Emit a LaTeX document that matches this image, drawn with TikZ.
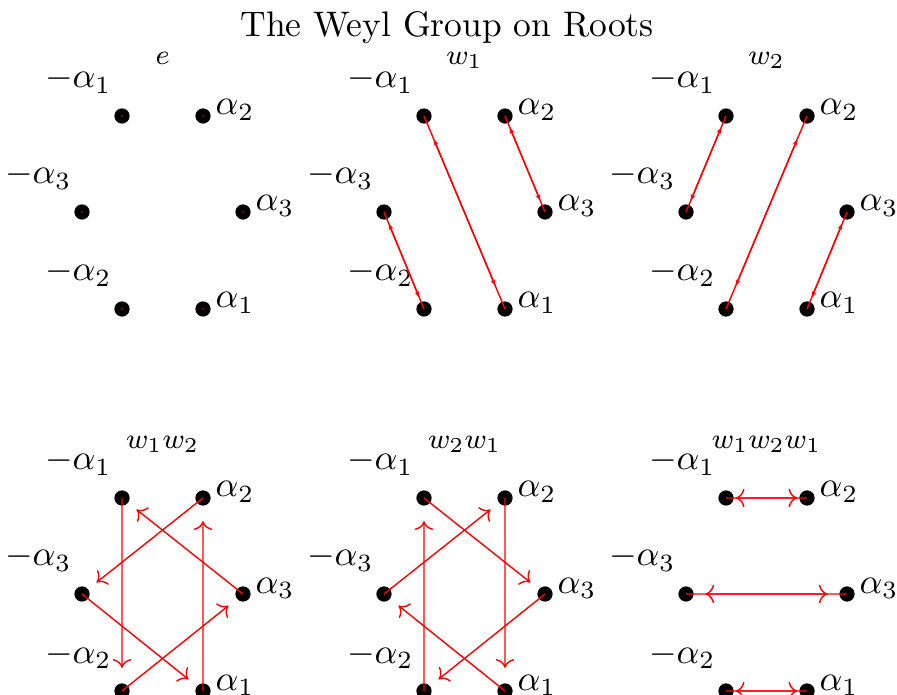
\documentclass[tikz,border=0pt]{standalone}
\usetikzlibrary{calc,arrows.meta}
\tikzset{
  rootdot/.style={circle,fill=black,inner sep=0pt,minimum size=4.3pt},
  poslabel/.style={anchor=base west,inner sep=0pt},
  neglabel/.style={anchor=base east,inner sep=0pt},
  paneltitle/.style={anchor=base,inner sep=0pt,font=\footnotesize},
  reflarrow/.style={red,line width=0.4pt,-{Stealth[length=1.8pt,width=1.4pt]}},
  rotarrow/.style={red,line width=0.4pt,->},
}
% #1 dx, #2 dy, #3 prefix, #4 title, #5 title y
\newcommand\rootpanel[5]{%
  \node[rootdot] (#3ma1) at (122+#1,116+#2) {};
  \node[rootdot] (#3a2)  at (203+#1,116+#2) {};
  \node[rootdot] (#3ma3) at (82+#1,212+#2) {};
  \node[rootdot] (#3a3)  at (243+#1,212+#2) {};
  \node[rootdot] (#3ma2) at (122+#1,309+#2) {};
  \node[rootdot] (#3a1)  at (203+#1,309+#2) {};
  \node[neglabel] (#3Lma1) at ($(#3ma1.center)+(-10,-28)$) {$-\alpha_1$};
  \node[neglabel] (#3Lma3) at ($(#3ma3.center)+(-10,-28)$) {$-\alpha_3$};
  \node[neglabel] (#3Lma2) at ($(#3ma2.center)+(-10,-28)$) {$-\alpha_2$};
  \node[poslabel] (#3La2) at ($(#3a2.center)+(12,-1)$) {$\alpha_2$};
  \node[poslabel] (#3La3) at ($(#3a3.center)+(12,-1)$) {$\alpha_3$};
  \node[poslabel] (#3La1) at ($(#3a1.center)+(12,-1)$) {$\alpha_1$};
  \node[paneltitle] (#3T) at (162.5+#1,#5) {$#4$};
}
\newcommand\maparrow[3]{\draw[#1] (#2.center) -- ($(#2.center)!0.88!(#3.center)$);}
\newcommand\swaparrow[3]{\maparrow{#1}{#2}{#3}\maparrow{#1}{#3}{#2}}

\begin{document}
\begin{tikzpicture}[x=0.2817pt,y=-0.2817pt]
  \useasboundingbox (0,0) rectangle (897,695);
  \node[anchor=base] (title) at (447,37) {The Weyl Group on Roots};

  \rootpanel{0}{0}{P}{e}{65}
  \rootpanel{302}{0}{Q}{w_1}{65}
  \rootpanel{604}{0}{R}{w_2}{65}
  \rootpanel{0}{382}{S}{w_1w_2}{449}
  \rootpanel{302}{382}{U}{w_2w_1}{449}
  \rootpanel{604}{382}{V}{w_1w_2w_1}{449}

  % identity
  \foreach \n in {Pma1,Pa2,Pma3,Pa3,Pma2,Pa1}
    \fill[red] (\n.center) circle (0.25pt);

  % w1
  \swaparrow{reflarrow}{Qma1}{Qa1}
  \swaparrow{reflarrow}{Qa2}{Qa3}
  \swaparrow{reflarrow}{Qma3}{Qma2}

  % w2
  \swaparrow{reflarrow}{Rma1}{Rma3}
  \swaparrow{reflarrow}{Ra2}{Rma2}
  \swaparrow{reflarrow}{Ra3}{Ra1}

  % w1 w2
  \maparrow{rotarrow}{Sma1}{Sma2}
  \maparrow{rotarrow}{Sa1}{Sa2}
  \maparrow{rotarrow}{Sa3}{Sma1}
  \maparrow{rotarrow}{Sa2}{Sma3}
  \maparrow{rotarrow}{Sma3}{Sa1}
  \maparrow{rotarrow}{Sma2}{Sa3}

  % w2 w1
  \maparrow{rotarrow}{Uma2}{Uma1}
  \maparrow{rotarrow}{Ua2}{Ua1}
  \maparrow{rotarrow}{Uma1}{Ua3}
  \maparrow{rotarrow}{Uma3}{Ua2}
  \maparrow{rotarrow}{Ua1}{Uma3}
  \maparrow{rotarrow}{Ua3}{Uma2}

  % w1 w2 w1
  \swaparrow{rotarrow}{Vma1}{Va2}
  \swaparrow{rotarrow}{Vma3}{Va3}
  \swaparrow{rotarrow}{Vma2}{Va1}
\end{tikzpicture}
\end{document}
